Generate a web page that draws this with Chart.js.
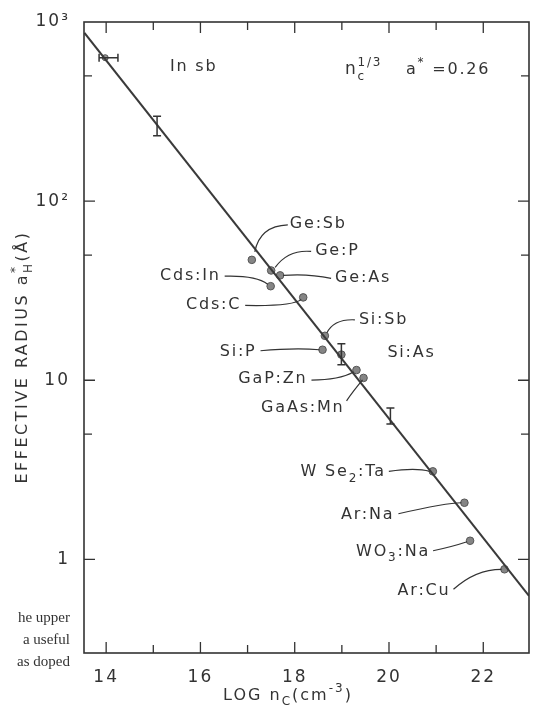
<!DOCTYPE html>
<html>
<head>
<meta charset="utf-8">
<script src="https://cdn.jsdelivr.net/npm/chart.js@4.4.0/dist/chart.umd.min.js"></script>
<style>
  html, body { margin: 0; padding: 0; background: #fff; }
</style>
</head>
<body>
<canvas id="effRadius" width="534" height="710"></canvas>
<script>
// fitted line n_c^(1/3) a* = 0.26, read at its two ends
const fitLogN = [13.54, 22.97];
const fitRadius = [869, 0.625];

// doped samples (filled dots)
const dotNames = ['Ge:Sb', 'Ge:P', 'Ge:As', 'Cds:In', 'Cds:C', 'Si:Sb', 'Si:P', 'Si:As',
                  'GaP:Zn', 'GaAs:Mn', 'W Se₂:Ta', 'Ar:Na', 'WO₃:Na', 'Ar:Cu'];
const dotLogN = [17.09, 17.50, 17.69, 17.49, 18.18, 18.64, 18.59, 18.99,
                 19.31, 19.46, 20.93, 21.60, 21.72, 22.45];
const dotRadius = [47, 41, 38.5, 33.5, 29, 17.7, 14.8, 13.9,
                   11.4, 10.3, 3.1, 2.07, 1.27, 0.88];

// points with error bars (InSb has a horizontal one)
const barLogN = [13.98, 15.08, 18.99, 20.03];
const barLogNLow = [13.85, 15.08, 18.99, 20.03];
const barLogNHigh = [14.25, 15.08, 18.99, 20.03];
const barRadius = [632, 263, 13.9, 6.3];
const barRadiusLow = [632, 232, 12.2, 5.7];
const barRadiusHigh = [632, 298, 16.0, 7.0];

// axis ticks
const xTicks = [14, 15, 16, 17, 18, 19, 20, 21, 22];
const xTickLabels = ['14', '', '16', '', '18', '', '20', '', '22'];
const yTicks = [1, 10, 100, 1000];
const yTickLabels = ['1', '10', '10²', '10³'];
const yMinorTicks = [5, 50, 500];

// where each label sits relative to its dot, and its leader curve
// lead = [startX, startY, ctrlX, ctrlY, endX, endY], all relative to the dot
const labelLayout = {
    'Ge:Sb':    { dx: 38,  dy: -36, align: 'left',  lead: [36, -35, 8, -34, 3, -8] },
    'Ge:P':     { dx: 44,  dy: -20, align: 'left',  lead: [40, -19, 17, -21, 4, -3] },
    'Ge:As':    { dx: 55,  dy: 2,   align: 'left',  lead: [51, 3, 28, -2, 3, 0] },
    'Cds:In':   { dx: -50, dy: -10, align: 'right', lead: [-46, -10, -15, -11, -3, -2] },
    'Cds:C':    { dx: -62, dy: 7,   align: 'right', lead: [-58, 8, -10, 9, -2, 2] },
    'Si:Sb':    { dx: 34,  dy: -16, align: 'left',  lead: [30, -16, 9, -17, 2, -3] },
    'Si:P':     { dx: -66, dy: 2,   align: 'right', lead: [-62, 1, -28, -2, -3, 0] },
    'Si:As':    { dx: 46,  dy: -2,  align: 'left',  lead: null },
    'GaP:Zn':   { dx: -49, dy: 9,   align: 'right', lead: [-45, 10, -17, 10, -3, 2] },
    'GaAs:Mn':  { dx: -19, dy: 30,  align: 'right', lead: [-17, 23, -11, 14, -1, 2] },
    'W Se₂:Ta': { dx: -47, dy: 1,   align: 'right', lead: [-44, 0, -17, -4, -3, 0] },
    'Ar:Na':    { dx: -70, dy: 12,  align: 'right', lead: [-66, 11, -18, 0, -3, 0] },
    'WO₃:Na':   { dx: -40, dy: 11,  align: 'right', lead: [-37, 10, -18, 6, -3, 1] },
    'Ar:Cu':    { dx: -54, dy: 22,  align: 'right', lead: [-51, 20, -29, 0, -3, 0] }
};

const INK = '#333';
const FONT = '"DejaVu Sans", sans-serif';

// split a label on unicode subscripts so they can be drawn larger
function toParts(str) {
    const subs = '₀₁₂₃₄₅₆₇₈₉';
    const parts = [];
    let buf = '';
    for (const ch of str) {
        const k = subs.indexOf(ch);
        if (k >= 0) {
            if (buf) parts.push({ t: buf });
            buf = '';
            parts.push({ sub: String(k) });
        } else {
            buf += ch;
        }
    }
    if (buf) parts.push({ t: buf });
    return parts;
}

function drawRich(ctx, parts, x, y, size, align) {
    const big = size + 'px ' + FONT;
    const small = Math.round(size * 0.72) + 'px ' + FONT;
    const widthOf = p => {
        if (p.t) { ctx.font = big; return ctx.measureText(p.t).width; }
        ctx.font = small;
        return Math.max(p.sup ? ctx.measureText(p.sup).width : 0,
                        p.sub ? ctx.measureText(p.sub).width : 0);
    };
    const total = parts.reduce((s, p) => s + widthOf(p), 0);
    let cx = align === 'center' ? x - total / 2 : align === 'right' ? x - total : x;
    ctx.textAlign = 'left';
    ctx.textBaseline = 'middle';
    parts.forEach(p => {
        const w = widthOf(p);
        if (p.t) {
            ctx.font = big;
            ctx.fillText(p.t, cx, y);
        } else {
            ctx.font = small;
            if (p.sup) ctx.fillText(p.sup, cx, y - size * 0.42);
            if (p.sub) ctx.fillText(p.sub, cx, y + size * 0.38);
        }
        cx += w;
    });
}

const decorations = {
    id: 'decorations',
    beforeDraw(chart) {
        chart.ctx.letterSpacing = '2px';
    },
    afterDatasetsDraw(chart) {
        const { ctx, chartArea: a, scales: { x, y } } = chart;
        ctx.save();
        ctx.strokeStyle = INK;
        ctx.fillStyle = INK;

        // error bars
        ctx.lineWidth = 1.5;
        barLogN.forEach((n, i) => {
            const px = x.getPixelForValue(n);
            const yl = y.getPixelForValue(barRadiusLow[i]);
            const yh = y.getPixelForValue(barRadiusHigh[i]);
            const xl = x.getPixelForValue(barLogNLow[i]);
            const xh = x.getPixelForValue(barLogNHigh[i]);
            const py = y.getPixelForValue(barRadius[i]);
            ctx.beginPath();
            if (yl !== yh) {
                ctx.moveTo(px, yl); ctx.lineTo(px, yh);
                ctx.moveTo(px - 4, yl); ctx.lineTo(px + 4, yl);
                ctx.moveTo(px - 4, yh); ctx.lineTo(px + 4, yh);
            }
            if (xl !== xh) {
                ctx.moveTo(xl, py); ctx.lineTo(xh, py);
                ctx.moveTo(xl, py - 4); ctx.lineTo(xl, py + 4);
                ctx.moveTo(xh, py - 4); ctx.lineTo(xh, py + 4);
            }
            ctx.stroke();
        });

        // frame and inward ticks
        ctx.lineWidth = 1.6;
        ctx.strokeRect(a.left, a.top, a.right - a.left, a.bottom - a.top);
        ctx.lineWidth = 1.3;
        ctx.beginPath();
        xTicks.forEach((v, i) => {
            const px = x.getPixelForValue(v);
            const len = xTickLabels[i] ? 11 : 8;
            ctx.moveTo(px, a.bottom); ctx.lineTo(px, a.bottom - len);
            ctx.moveTo(px, a.top); ctx.lineTo(px, a.top + len);
        });
        yTicks.concat(yMinorTicks).forEach(v => {
            const py = y.getPixelForValue(v);
            if (py <= a.top + 1) return;
            const len = yMinorTicks.includes(v) ? 8 : 11;
            ctx.moveTo(a.left, py); ctx.lineTo(a.left + len, py);
            ctx.moveTo(a.right, py); ctx.lineTo(a.right - len, py);
        });
        ctx.stroke();

        // sample labels with leader curves
        ctx.lineWidth = 1.2;
        ctx.letterSpacing = '1.8px';
        dotNames.forEach((name, i) => {
            const L = labelLayout[name];
            const px = x.getPixelForValue(dotLogN[i]);
            const py = y.getPixelForValue(dotRadius[i]);
            if (L.lead) {
                const d = L.lead;
                ctx.beginPath();
                ctx.moveTo(px + d[0], py + d[1]);
                ctx.quadraticCurveTo(px + d[2], py + d[3], px + d[4], py + d[5]);
                ctx.stroke();
            }
            drawRich(ctx, toParts(name), px + L.dx, py + L.dy, 16, L.align);
        });

        // in-plot notes
        drawRich(ctx, [{ t: 'In sb' }], 170, 67, 16, 'left');
        drawRich(ctx, [{ t: 'n' }, { sup: '1/3', sub: 'c' }], 345, 70, 17, 'left');
        drawRich(ctx, [{ t: 'a' }, { sup: '*' }, { t: ' =0.26' }], 406, 70, 16, 'left');

        // axis titles
        ctx.letterSpacing = '2px';
        drawRich(ctx, [{ t: 'LOG n' }, { sub: 'C' }, { t: '(cm' }, { sup: '-3' }, { t: ')' }],
                 288, 696, 16, 'center');
        ctx.save();
        ctx.translate(23, 357);
        ctx.rotate(-Math.PI / 2);
        ctx.letterSpacing = '2.5px';
        drawRich(ctx, [{ t: 'EFFECTIVE RADIUS a' }, { sup: '*', sub: 'H' }, { t: '(Å)' }],
                 0, 0, 16, 'center');
        ctx.restore();

        // text of the facing page showing through at the left margin
        ctx.letterSpacing = '0px';
        ctx.font = '15px "Liberation Serif", serif';
        ctx.textAlign = 'right';
        ctx.textBaseline = 'middle';
        ctx.fillText('he upper', 70, 618);
        ctx.fillText('a useful', 70, 640);
        ctx.fillText('as doped', 70, 662);

        ctx.restore();
    }
};

const data = {
    datasets: [
        {
            type: 'line',
            data: fitLogN.map((n, i) => ({ x: n, y: fitRadius[i] })),
            borderColor: '#3a3a3a',
            borderWidth: 2,
            pointRadius: 0,
            fill: false
        },
        {
            type: 'scatter',
            data: dotLogN.map((n, i) => ({ x: n, y: dotRadius[i] })),
            backgroundColor: '#858585',
            borderColor: '#555',
            borderWidth: 1,
            pointRadius: 3.8
        },
        {
            type: 'scatter',
            data: barLogN.slice(0, 1).map((n, i) => ({ x: n, y: barRadius[i] })),
            backgroundColor: '#9a9a9a',
            borderColor: '#555',
            borderWidth: 1,
            pointRadius: 3
        }
    ]
};

const config = {
    type: 'scatter',
    data: data,
    options: {
        responsive: false,
        animation: false,
        events: [],
        layout: { padding: { top: 22, right: 4, left: 0, bottom: 0 } },
        plugins: {
            legend: { display: false },
            tooltip: { enabled: false }
        },
        scales: {
            x: {
                type: 'linear',
                position: 'bottom',
                min: 13.53,
                max: 22.97,
                grid: { display: false },
                border: { display: false },
                afterBuildTicks: scale => { scale.ticks = xTicks.map(v => ({ value: v })); },
                afterFit: scale => { scale.height = 57; },
                ticks: {
                    autoSkip: false,
                    maxRotation: 0,
                    padding: 6,
                    color: INK,
                    font: { family: FONT, size: 17 },
                    callback: (v, i) => xTickLabels[i]
                }
            },
            y: {
                type: 'logarithmic',
                min: 0.316,
                max: 1000,
                grid: { display: false },
                border: { display: false },
                afterBuildTicks: scale => { scale.ticks = yTicks.map(v => ({ value: v })); },
                afterFit: scale => { scale.width = 84; },
                ticks: {
                    autoSkip: false,
                    padding: 6,
                    color: INK,
                    font: { family: FONT, size: 17 },
                    callback: (v, i) => yTickLabels[i]
                }
            }
        }
    },
    plugins: [decorations]
};

new Chart(document.getElementById('effRadius'), config);
</script>
</body>
</html>
